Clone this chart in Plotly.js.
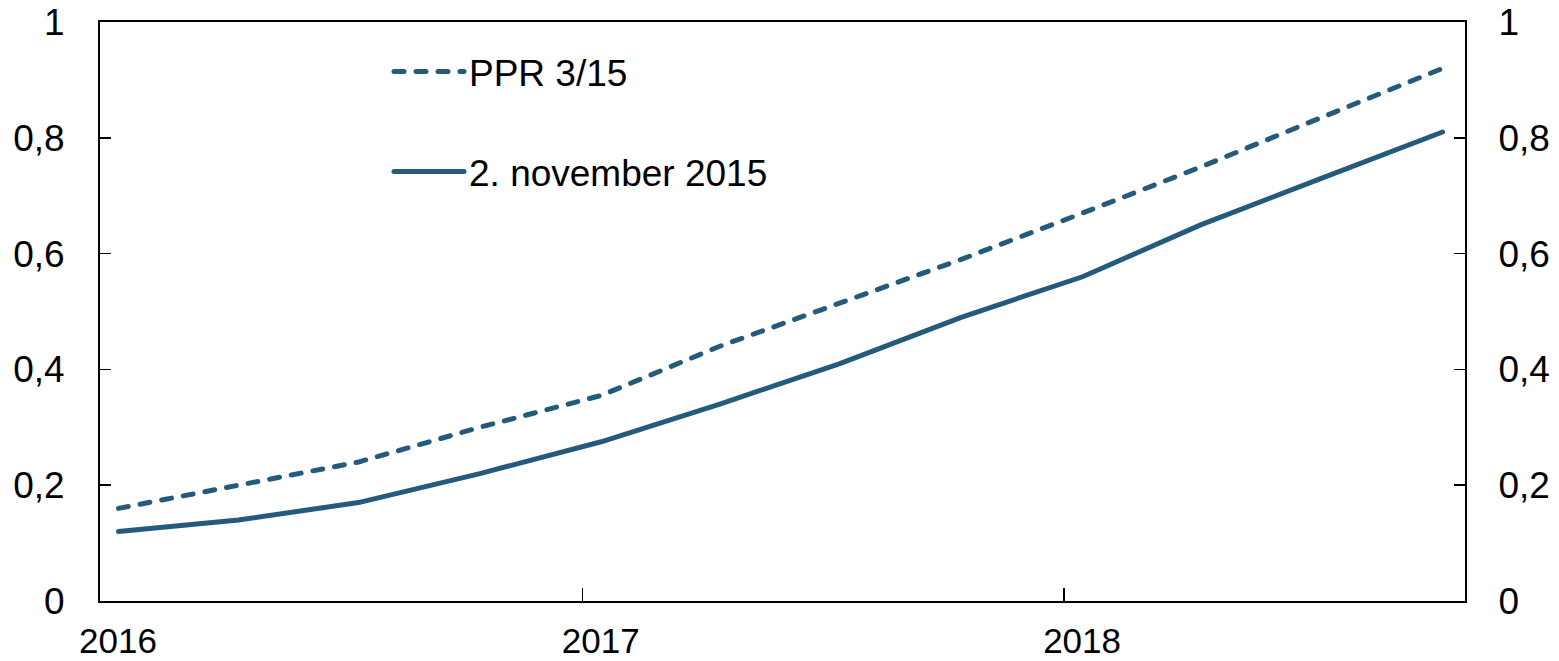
<!DOCTYPE html>
<html>
<head>
<meta charset="utf-8">
<script src="https://cdn.plot.ly/plotly-3.0.1.min.js"></script>
<style>
  html, body { margin: 0; padding: 0; background: #fff; }
  #chart { width: 1559px; height: 661px; }
  .js-line { stroke-linecap: round; }
</style>
</head>
<body>
<div id="chart"></div>
<script>
const dates = ["2016-01-15","2016-04-15","2016-07-15","2016-10-15",
               "2017-01-15","2017-04-15","2017-07-15","2017-10-15",
               "2018-01-15","2018-04-15","2018-07-15","2018-10-15"];
const ppr315 = [0.16, 0.20, 0.24, 0.30, 0.355, 0.44, 0.515, 0.59, 0.67, 0.75, 0.835, 0.92];
const nov2015 = [0.12, 0.14, 0.17, 0.22, 0.275, 0.34, 0.41, 0.49, 0.56, 0.65, 0.73, 0.81];
const seriesNames = ["PPR 3/15", "2. november 2015"];
const yTicks = [0, 0.2, 0.4, 0.6, 0.8, 1];

const color = "#245B7C";
const font = {family: "Liberation Sans, Arial, sans-serif", size: 35, color: "#000"};
const legFont = {family: "Liberation Sans, Arial, sans-serif", size: 37, color: "#000"};
const yFont = {family: "Liberation Sans, Arial, sans-serif", size: 37, color: "#000"};

const traces = [
  {x: dates, y: ppr315, name: seriesNames[0], type: "scatter", mode: "lines",
   line: {color: color, width: 5, dash: "10px,12px"}, legend: "legend", yaxis: "y"},
  {x: dates, y: nov2015, name: seriesNames[1], type: "scatter", mode: "lines",
   line: {color: color, width: 5}, legend: "legend2", yaxis: "y2"}
];

const legX = (389 - 100) / 1365;
const layout = {
  width: 1559, height: 661,
  margin: {l: 100, r: 94, t: 22, b: 60},
  paper_bgcolor: "#fff", plot_bgcolor: "#fff",
  separators: ", ",
  font: font,
  showlegend: true,
  legend: {x: legX, y: (601 - 72) / 579,
           xanchor: "left", yanchor: "middle", bgcolor: "rgba(0,0,0,0)",
           font: legFont, borderwidth: 0, itemwidth: 70},
  legend2: {x: legX, y: (601 - 172) / 579,
           xanchor: "left", yanchor: "middle", bgcolor: "rgba(0,0,0,0)",
           font: legFont, borderwidth: 0, itemwidth: 70},
  xaxis: {
    type: "date", range: ["2016-01-01", "2018-11-01"],
    tickmode: "linear", tick0: "2016-01-01", dtick: "M12", tickformat: "%Y",
    ticks: "inside", ticklen: 13, tickwidth: 1.5, tickcolor: "#000",
    showline: true, linecolor: "#000", linewidth: 2, mirror: true,
    showgrid: false, zeroline: false, ticklabelshift: 18, ticklabelstandoff: 8,
    tickfont: font
  },
  yaxis: {
    range: [0, 1], tickvals: yTicks, ticks: "inside", ticklen: 11, tickwidth: 1.5,
    tickcolor: "#000", showline: true, linecolor: "#000", linewidth: 2,
    showgrid: false, zeroline: false, tickfont: yFont, ticklabelstandoff: 26
  },
  yaxis2: {
    range: [0, 1], tickvals: yTicks, overlaying: "y", side: "right", anchor: "x",
    ticks: "inside", ticklen: 11, tickwidth: 1.5, tickcolor: "#000",
    showline: true, linecolor: "#000", linewidth: 2,
    showgrid: false, zeroline: false, tickfont: yFont, ticklabelstandoff: 24
  }
};

Plotly.newPlot("chart", traces, layout, {staticPlot: true, displayModeBar: false});
</script>
</body>
</html>
